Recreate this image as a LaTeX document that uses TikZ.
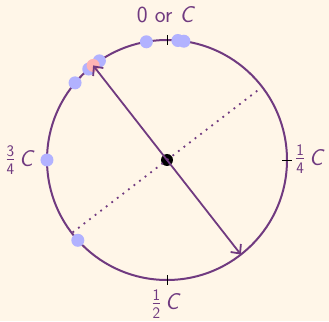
\documentclass[tikz,border=0pt]{standalone}
\usepackage{amsmath}
\usetikzlibrary{arrows.meta}

\definecolor{paper}{RGB}{255,246,232}
\definecolor{plum}{RGB}{112,58,128}
\definecolor{chipblue}{RGB}{178,178,255}
\definecolor{chippink}{RGB}{255,180,180}

\newcommand{\qfrac}[2]{$\frac{\textsf{#1}}{\textsf{#2}}$\,\textsl{C}}

\begin{document}
\begin{tikzpicture}[
    x=1pt, y=1pt,
    every node/.style={font=\fontsize{23}{27}\selectfont\sffamily, text=plum, inner sep=0pt},
    wheel/.style={draw=plum, line width=2pt},
    tick/.style={draw=black, line width=0.9pt},
    chip/.style={circle, fill=chipblue, minimum size=13pt},
    hit/.style={circle, fill=chippink, minimum size=13pt},
    hub/.style={circle, fill=black, minimum size=12pt},
    dotline/.style={draw=plum, line width=1.8pt, dash pattern=on 1.8pt off 5.2pt},
    dblarrow/.style={{Straight Barb[length=7pt,width=13pt]}-{Straight Barb[length=7pt,width=13pt]}, draw=plum, line width=1.8pt}
]
\fill[paper] (-167,-161) rectangle (162,160);
\useasboundingbox (-167,-161) rectangle (162,160);

\draw[wheel] (0,0) circle (120);

% quarter marks
\foreach \a in {0,90,180,270}
  \draw[tick] (\a:115) -- (\a:125);

% points on the ring
\foreach \a [count=\i] in {99.9,84.8,81.9,124.3,130.7,140,180,222}
  \node[chip] (d\i) at (\a:120) {};
\node[hit] (p) at (128:120) {};

\node[hub] (o) at (0,0) {};

\coordinate (dl) at (217.5:119);
\coordinate (dr) at (37.5:119);
\draw[dotline] (dl) -- (dr);

\coordinate (tail) at (308:120);
\draw[dblarrow] (p.center) -- (tail);

% labels
\node[anchor=base] (lt) at (-1,137) {0 or \textsl{C}};
\node[anchor=west] (lr) at (128,1) {\qfrac{1}{4}};
\node[anchor=north] (lb) at (-1,-129) {\qfrac{1}{2}};
\node[anchor=east] (ll) at (-132,0) {\qfrac{3}{4}};

\end{tikzpicture}
\end{document}
